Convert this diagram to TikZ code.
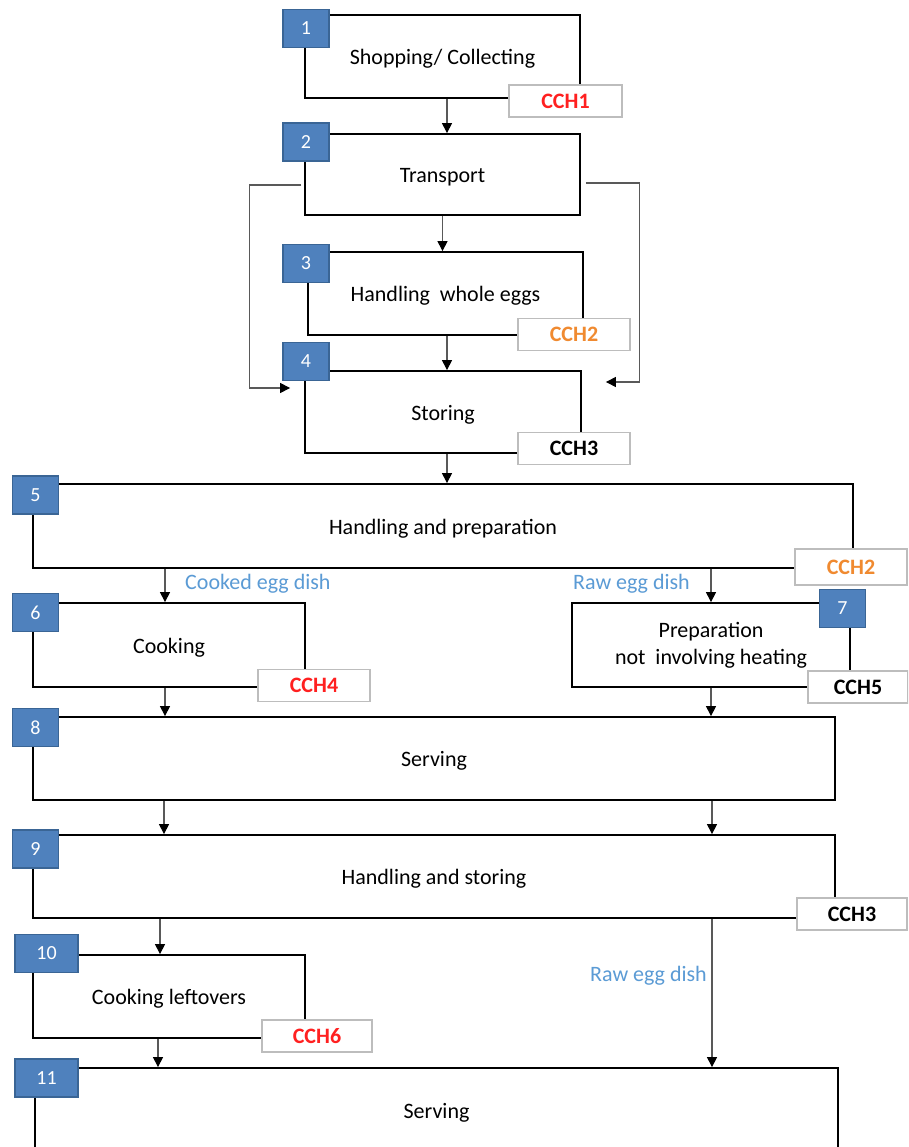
\documentclass[tikz,border=0pt]{standalone}
\usepackage{fontspec}
\setmainfont{Carlito}
\usetikzlibrary{arrows.meta,calc}
\definecolor{badgefill}{HTML}{4F81BD}
\definecolor{badgeline}{HTML}{3A6595}
\definecolor{cchred}{HTML}{FF2020}
\definecolor{cchorange}{HTML}{F08A30}
\definecolor{lblblue}{HTML}{5B9BD5}
\definecolor{cchframe}{HTML}{BDBDBD}
\begin{document}
\begin{tikzpicture}[x=1pt,y=-1pt,
  stepbox/.style={draw=black, line width=1.8pt, inner sep=0pt, align=center,
    font=\fontsize{22}{27}\selectfont},
  lowtext/.style={text height=21pt, text depth=5pt},
  badge/.style={draw=badgeline, line width=1.2pt, fill=badgefill, text=white,
    inner sep=0pt, minimum width=46pt, minimum height=38pt,
    font=\fontsize{20}{24}\selectfont},
  cch/.style={draw=cchframe, line width=1.2pt, fill=white, inner sep=0pt,
    minimum width=112pt, minimum height=32pt,
    font=\bfseries\fontsize{22}{26}\selectfont},
  conn/.style={draw=black!65, line width=1.1pt,
    -{Triangle[length=10pt,width=10pt,color=black]}},
  lbl/.style={text=lblblue, inner sep=0pt, font=\fontsize{22}{26}\selectfont}
]
\path[use as bounding box, clip] (0,0) rectangle (908,1147);
\fill[white] (0,0) rectangle (908,1147);

% main boxes
\node[stepbox, lowtext, minimum width=275pt, minimum height=83pt] (b1) at (442.5,56.5) {Shopping/ Collecting};
\node[stepbox, lowtext, minimum width=275pt, minimum height=81pt] (b2) at (442.5,174.5) {Transport};
\node[stepbox, lowtext, minimum width=275pt, minimum height=83pt] (b3) at (445.5,293.5) {Handling\ \ whole eggs};
\node[stepbox, lowtext, minimum width=276pt, minimum height=82pt] (b4) at (443,412) {Storing};
\node[stepbox, lowtext, minimum width=820pt, minimum height=84pt] (b5) at (443,526) {Handling and preparation};
\node[stepbox, lowtext, minimum width=272pt, minimum height=84pt] (b6) at (169,645) {Cooking};
\node[stepbox, minimum width=278pt, minimum height=84pt] (b7) at (711,645) {Preparation\\ not\ \ involving heating};
\node[stepbox, lowtext, minimum width=802pt, minimum height=83pt] (b8) at (434,758.5) {Serving};
\node[stepbox, lowtext, minimum width=802pt, minimum height=83pt] (b9) at (434,876.5) {Handling and storing};
\node[stepbox, lowtext, minimum width=272pt, minimum height=83pt] (b10) at (169,996.5) {Cooking leftovers};
\node[stepbox, lowtext, minimum width=803pt, minimum height=84pt] (b11) at (436.5,1110) {Serving};

% connectors
\draw[conn] ($(b1.south)+(4.5,0)$) -- ($(b2.north)+(4.5,0)$);
\draw[conn] (b2.south) -- (b2.south |- b3.north);
\draw[conn] ($(b3.south)+(1.5,0)$) -- ($(b4.north)+(4,0)$);
\draw[conn] ($(b4.south)+(4,0)$) -- ($(b4.south |- b5.north)+(4,0)$);
\draw[conn] ([xshift=-3pt,yshift=-10.5pt]b2.west) -- ++(-52,0) |- ([xshift=-14pt,yshift=24pt]b4.west);
\draw[conn] ([xshift=5pt,yshift=-8.5pt]b2.east) -- ++(54,0) |- ([xshift=24pt,yshift=30pt]b4.east);
\draw[conn] ($(b6.north |- b5.south)+(-4,0)$) -- ($(b6.north)+(-4,0)$);
\draw[conn] (b7.north |- b5.south) -- (b7.north);
\draw[conn] ($(b6.south)+(-4,0)$) -- ($(b6.south |- b8.north)+(-4,0)$);
\draw[conn] (b7.south) -- (b7.south |- b8.north);
\draw[conn] ($(b8.south)+(-270,0)$) -- ($(b9.north)+(-270,0)$);
\draw[conn] ($(b8.south)+(278,0)$) -- ($(b9.north)+(278,0)$);
\draw[conn] ($(b10.north |- b9.south)+(-9,0)$) -- ($(b10.north)+(-9,0)$);
\draw[conn] ($(b9.south)+(278,0)$) -- ($(b9.south |- b11.north)+(278,0)$);
\draw[conn] ($(b10.south)+(-11,0)$) -- ($(b10.south |- b11.north)+(-11,0)$);

% branch labels
\node[lbl, anchor=west] (l1) at (185,584) {Cooked egg dish};
\node[lbl, anchor=east] (l2) at (690,584) {Raw egg dish};
\node[lbl, anchor=east] (l3) at (707,976) {Raw egg dish};

% step numbers
\node[badge] (n1) at (306,28.5) {1};
\node[badge] (n2) at (306,142) {2};
\node[badge] (n3) at (306,263.5) {3};
\node[badge] (n4) at (306,361.5) {4};
\node[badge] (n5) at (35.5,495) {5};
\node[badge] (n6) at (35.5,612.5) {6};
\node[badge] (n7) at (842.5,608.5) {7};
\node[badge] (n8) at (35.5,727.5) {8};
\node[badge] (n9) at (35.5,849) {9};
\node[badge, minimum width=63pt] (n10) at (46.5,953.5) {10};
\node[badge, minimum width=63pt] (n11) at (46.5,1078) {11};

% critical control points
\node[cch, minimum width=113pt, text=cchred] (c1) at (565.5,101) {CCH1};
\node[cch, text=cchorange] (c2) at (574,334.5) {CCH2};
\node[cch, text=black] (c3) at (574,448.5) {CCH3};
\node[cch, minimum height=36pt, text=cchorange] (c4) at (851,567) {CCH2};
\node[cch, text=cchred] (c5) at (314,685.5) {CCH4};
\node[cch, minimum width=100pt, text=black] (c6) at (858,687) {CCH5};
\node[cch, minimum width=110pt, text=black] (c7) at (852,914) {CCH3};
\node[cch, minimum width=110pt, text=cchred] (c8) at (317,1036) {CCH6};
\end{tikzpicture}
\end{document}
